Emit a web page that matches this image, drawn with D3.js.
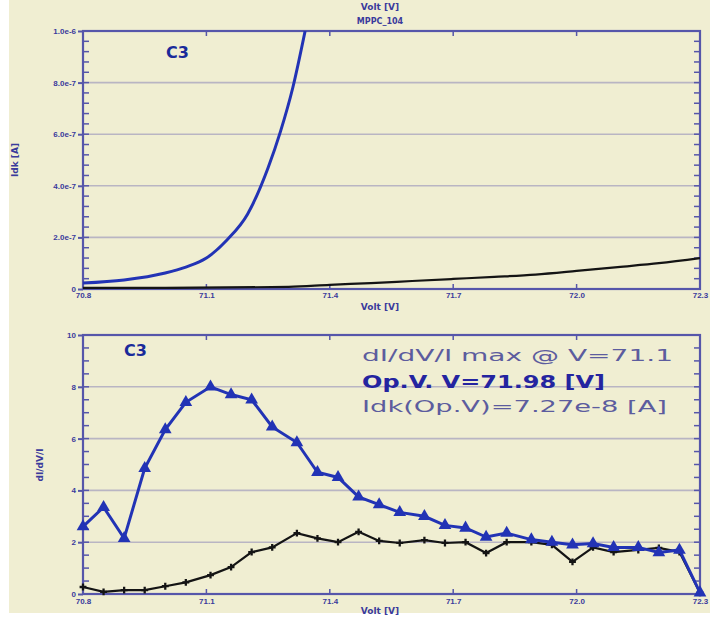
<!DOCTYPE html>
<html><head><meta charset="utf-8">
<script src="https://cdn.jsdelivr.net/npm/d3@7"></script>
<style>
html,body{margin:0;padding:0;background:#fff;}
svg{display:block;font-family:"DejaVu Sans",Verdana,sans-serif;}
</style></head>
<body>
<svg id="c" width="710" height="618"></svg>
<script>
// ---------- data ----------
const xTicks = [70.8, 71.1, 71.4, 71.7, 72.0, 72.3];
const xTickLabels = ["70.8", "71.1", "71.4", "71.7", "72.0", "72.3"];

const topYTicks = [0, 2e-7, 4e-7, 6e-7, 8e-7, 1e-6];
const topYTickLabels = ["0", "2.0e-7", "4.0e-7", "6.0e-7", "8.0e-7", "1.0e-6"];

const botYTicks = [0, 2, 4, 6, 8, 10];
const botYTickLabels = ["0", "2", "4", "6", "8", "10"];

// top panel: current curves
const topBlueV = [70.80, 70.90, 71.00, 71.05, 71.10, 71.15, 71.20, 71.25, 71.28, 71.31, 71.34];
const topBlueI = [0.023e-6, 0.035e-6, 0.062e-6, 0.085e-6, 0.12e-6, 0.19e-6, 0.29e-6, 0.47e-6, 0.61e-6, 0.78e-6, 1.0e-6];
const topBlackV = [70.80, 71.00, 71.30, 71.40, 71.50, 71.60, 71.70, 71.80, 71.90, 72.00, 72.10, 72.20, 72.30];
const topBlackI = [0.004e-6, 0.004e-6, 0.008e-6, 0.016e-6, 0.023e-6, 0.031e-6, 0.039e-6, 0.047e-6, 0.056e-6, 0.07e-6, 0.085e-6, 0.10e-6, 0.12e-6];

// bottom panel: dI/dV/I
const botV = [70.80, 70.85, 70.90, 70.95, 71.00, 71.05, 71.11, 71.16, 71.21, 71.26,
              71.32, 71.37, 71.42, 71.47, 71.52, 71.57, 71.63, 71.68, 71.73, 71.78,
              71.83, 71.89, 71.94, 71.99, 72.04, 72.09, 72.15, 72.20, 72.25, 72.30];
const botBlue = [2.6, 3.35, 2.15, 4.85, 6.35, 7.4, 8.0, 7.7, 7.5, 6.45,
                 5.85, 4.7, 4.5, 3.75, 3.45, 3.15, 3.0, 2.65, 2.55, 2.2,
                 2.35, 2.1, 2.0, 1.9, 1.95, 1.8, 1.8, 1.6, 1.7, 0.05];
const botBlack = [0.27, 0.08, 0.15, 0.15, 0.3, 0.45, 0.73, 1.04, 1.62, 1.8,
                  2.35, 2.15, 2.0, 2.4, 2.05, 1.97, 2.08, 1.97, 2.0, 1.58,
                  2.0, 2.0, 1.9, 1.24, 1.8, 1.62, 1.7, 1.78, 1.62, 0.05];

// ---------- style ----------
const BG = "#f0eed2";
const AXIS = "#5656aa";
const GRID = "#b9b5c3";
const TXT = "#3a3a9c";
const BLUE = "#2233b5";
const BLACK = "#141414";

const svg = d3.select("#c");
svg.append("rect").attr("x", 9).attr("y", 0).attr("width", 701).attr("height", 613).attr("fill", BG);

const x = d3.scaleLinear().domain([70.8, 72.3]).range([83, 700]);
const yTop = d3.scaleLinear().domain([0, 1e-6]).range([289, 31]);
const yBot = d3.scaleLinear().domain([0, 10]).range([594, 335]);

function panel(y, yTicks, yLabels, minorStep, yTitle, yTitleY, xTickY, xTitleY, clipId, yTitleText) {
  const [y0, y1] = y.range();
  const g = svg.append("g");
  g.append("g").selectAll("line").data(yTicks.slice(1, -1)).join("line")
    .attr("x1", x(70.8)).attr("x2", x(72.3))
    .attr("y1", d => y(d)).attr("y2", d => y(d))
    .attr("stroke", GRID).attr("stroke-width", 1.6);
  const dom = y.domain();
  const minors = d3.range(dom[0], dom[1] + minorStep / 2, minorStep);
  g.append("g").selectAll("line").data(minors).join("line")
    .attr("x1", x(70.8)).attr("x2", x(70.8) + 6)
    .attr("y1", d => y(d)).attr("y2", d => y(d))
    .attr("stroke", AXIS).attr("stroke-width", 1.5);
  g.append("g").selectAll("line").data(minors).join("line")
    .attr("x1", x(72.3)).attr("x2", x(72.3) - 6)
    .attr("y1", d => y(d)).attr("y2", d => y(d))
    .attr("stroke", AXIS).attr("stroke-width", 1.5);
  const ax = d3.axisLeft(y).tickValues(yTicks).tickFormat((d, i) => yLabels[i]).tickSize(5).tickPadding(2);
  const la = g.append("g").attr("transform", `translate(${x(70.8)},0)`).call(ax);
  la.select(".domain").remove();
  la.selectAll("line").attr("stroke", AXIS).attr("stroke-width", 2);
  la.selectAll("text").attr("fill", TXT).attr("font-size", 8).attr("font-weight", "bold");
  const bx = d3.axisBottom(x).tickValues(xTicks).tickFormat((d, i) => xTickLabels[i]).tickSize(0).tickPadding(5);
  const ba = g.append("g").attr("transform", `translate(0,${y0})`).call(bx);
  ba.select(".domain").remove();
  ba.selectAll("text").attr("fill", TXT).attr("font-size", 8).attr("font-weight", "bold")
    .attr("y", xTickY - y0).attr("dy", 0);
  g.append("g").selectAll("line").data(xTicks.slice(1, -1)).join("line")
    .attr("x1", d => x(d)).attr("x2", d => x(d)).attr("y1", y0).attr("y2", y0 - 5)
    .attr("stroke", AXIS).attr("stroke-width", 1.5);
  g.append("g").selectAll("line").data(xTicks.slice(1, -1)).join("line")
    .attr("x1", d => x(d)).attr("x2", d => x(d)).attr("y1", y1).attr("y2", y1 + 5)
    .attr("stroke", AXIS).attr("stroke-width", 1.5);
  g.append("rect").attr("x", x(70.8)).attr("y", y1).attr("width", x(72.3) - x(70.8)).attr("height", y0 - y1)
    .attr("fill", "none").attr("stroke", AXIS).attr("stroke-width", 2.2);
  g.append("text").attr("x", 380).attr("y", xTitleY).attr("text-anchor", "middle")
    .attr("fill", TXT).attr("font-size", 9).attr("font-weight", "bold").text("Volt [V]");
  g.append("text").attr("transform", `translate(${yTitle},${yTitleY}) rotate(-90)`).attr("text-anchor", "middle")
    .attr("fill", TXT).attr("font-size", 9).attr("font-weight", "bold").text(yTitleText);
  svg.append("defs").append("clipPath").attr("id", clipId).append("rect")
    .attr("x", x(70.8)).attr("y", y1).attr("width", x(72.3) - x(70.8)).attr("height", y0 - y1);
  return g;
}

// ---------- top panel ----------
svg.append("text").attr("x", 380).attr("y", 10).attr("text-anchor", "middle")
  .attr("fill", TXT).attr("font-size", 9).attr("font-weight", "bold").text("Volt [V]");
svg.append("text").attr("x", 380).attr("y", 24).attr("text-anchor", "middle")
  .attr("fill", TXT).attr("font-size", 8).attr("font-weight", "bold").text("MPPC_104");

panel(yTop, topYTicks, topYTickLabels, 0.4e-7, 18, 160, 298, 310, "topclip", "Idk [A]");
const lineTop = d3.line().x(d => x(d[0])).y(d => yTop(d[1])).curve(d3.curveMonotoneX);
svg.append("path").datum(d3.zip(topBlackV, topBlackI)).attr("d", lineTop)
  .attr("fill", "none").attr("stroke", BLACK).attr("stroke-width", 2.2).attr("clip-path", "url(#topclip)");
svg.append("path").datum(d3.zip(topBlueV, topBlueI)).attr("d", lineTop)
  .attr("fill", "none").attr("stroke", BLUE).attr("stroke-width", 3).attr("clip-path", "url(#topclip)");
svg.append("text").attr("x", 166).attr("y", 58).attr("fill", "#1a2a9a")
  .attr("font-size", 16).attr("font-weight", "bold").text("C3");

// ---------- bottom panel ----------
panel(yBot, botYTicks, botYTickLabels, 0.5, 43, 465, 604, 614, "botclip", "dI/dV/I");
const lineBot = d3.line().x(d => x(d[0])).y(d => yBot(d[1]));
const blackPts = d3.zip(botV, botBlack);
const bluePts = d3.zip(botV, botBlue);
svg.append("path").datum(blackPts).attr("d", lineBot)
  .attr("fill", "none").attr("stroke", BLACK).attr("stroke-width", 2.2);
svg.append("g").selectAll("path").data(blackPts).join("path")
  .attr("d", d3.symbol(d3.symbolCross, 26)())
  .attr("transform", d => `translate(${x(d[0])},${yBot(d[1])})`).attr("fill", BLACK);
svg.append("path").datum(bluePts).attr("d", lineBot)
  .attr("fill", "none").attr("stroke", BLUE).attr("stroke-width", 3);
svg.append("g").selectAll("path").data(bluePts).join("path")
  .attr("d", d3.symbol(d3.symbolTriangle, 70)())
  .attr("transform", d => `translate(${x(d[0])},${yBot(d[1])})`).attr("fill", BLUE);

svg.append("text").attr("x", 124).attr("y", 356).attr("fill", "#1a2a9a")
  .attr("font-size", 16).attr("font-weight", "bold").text("C3");

const ann = svg.append("g");
ann.append("text").attr("x", 362).attr("y", 361).attr("fill", "#5c5c9e").attr("font-size", 16)
  .attr("textLength", 311).attr("lengthAdjust", "spacingAndGlyphs").text("dI/dV/I max @ V=71.1");
ann.append("text").attr("x", 362).attr("y", 388).attr("fill", "#2424a0").attr("font-size", 17).attr("font-weight", "bold")
  .attr("textLength", 243).attr("lengthAdjust", "spacingAndGlyphs").text("Op.V. V=71.98 [V]");
ann.append("text").attr("x", 362).attr("y", 412).attr("fill", "#5c5c9e").attr("font-size", 16)
  .attr("textLength", 305).attr("lengthAdjust", "spacingAndGlyphs").text("Idk(Op.V)=7.27e-8 [A]");
</script>
</body></html>
